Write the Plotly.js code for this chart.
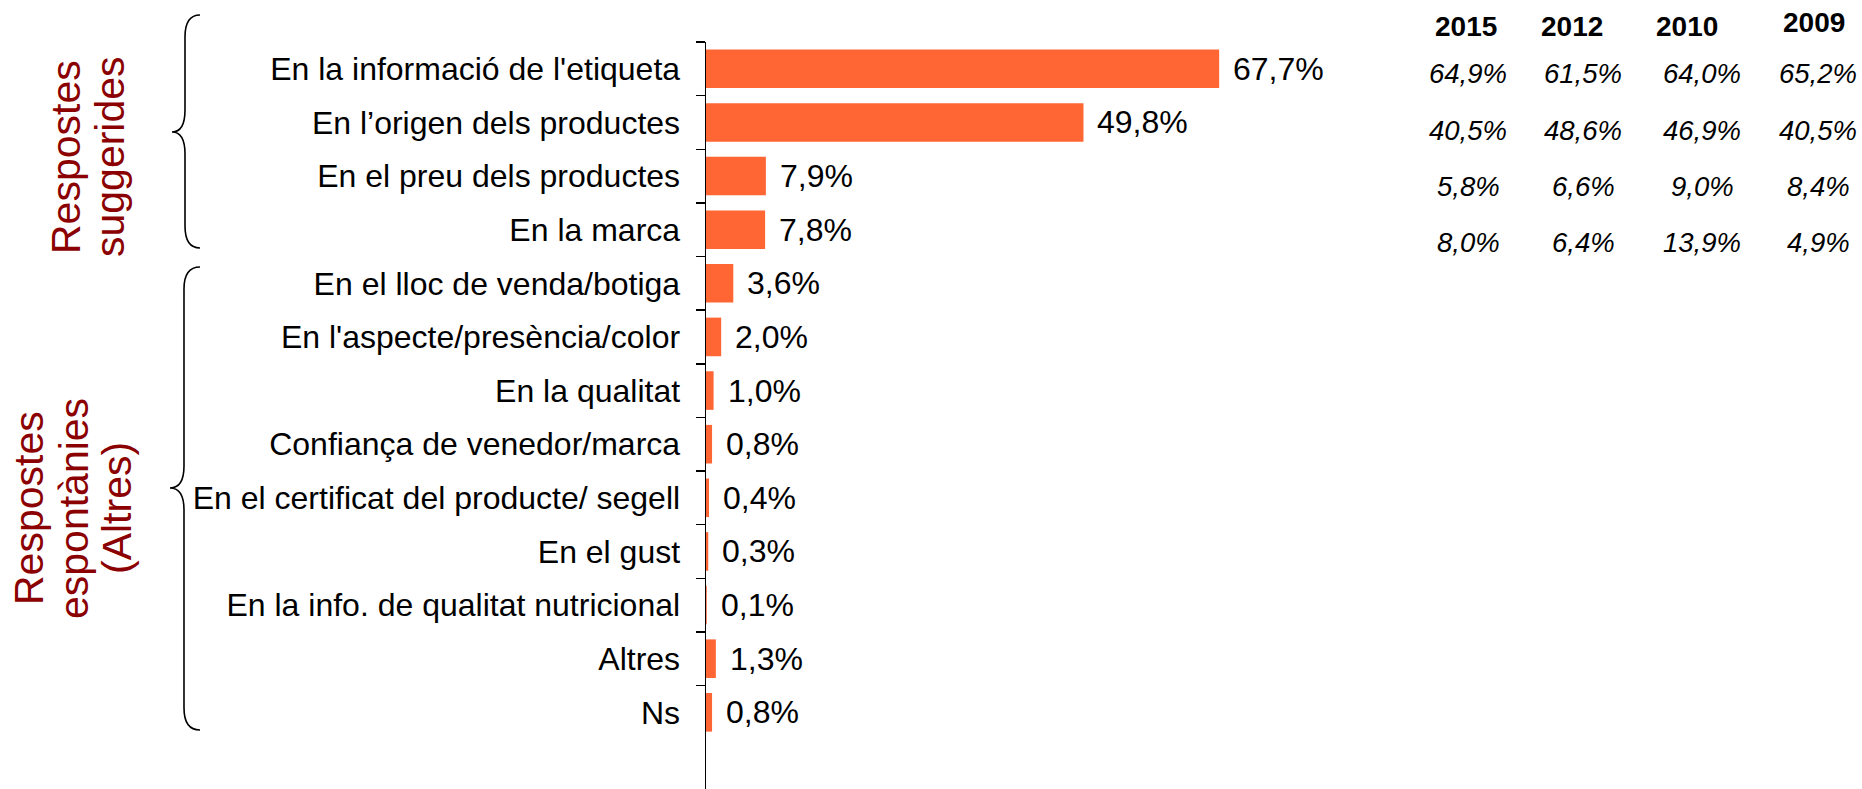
<!DOCTYPE html>
<html>
<head>
<meta charset="utf-8">
<script src="https://cdn.plot.ly/plotly-3.0.1.min.js"></script>
<style>
  html, body { margin: 0; padding: 0; background: #ffffff; }
  #chart { width: 1862px; height: 789px; }
</style>
</head>
<body>
<div id="chart"></div>
<script>
// ---------------- DATA ----------------
const categories = [
  "En la informació de l'etiqueta",
  "En l\u2019origen dels productes",
  "En el preu dels productes",
  "En la marca",
  "En el lloc de venda/botiga",
  "En l'aspecte/presència/color",
  "En la qualitat",
  "Confiança de venedor/marca",
  "En el certificat del producte/ segell",
  "En el gust",
  "En la info. de qualitat nutricional",
  "Altres",
  "Ns"
];
const values2017 = [67.7, 49.8, 7.9, 7.8, 3.6, 2.0, 1.0, 0.8, 0.4, 0.3, 0.1, 1.3, 0.8];

const tableYears = ["2015", "2012", "2010", "2009"];
const values2015 = [64.9, 40.5, 5.8, 8.0];
const values2012 = [61.5, 48.6, 6.6, 6.4];
const values2010 = [64.0, 46.9, 9.0, 13.9];
const values2009 = [65.2, 40.5, 8.4, 4.9];
const tableValues = [values2015, values2012, values2010, values2009];

const groupLabels = [
  ["Respostes", "suggerides"],
  ["Respostes", "espontànies", "(Altres)"]
];

// ---------------- LAYOUT HELPERS ----------------
const W = 1862, H = 789;
const M = { l: 706, r: 0, t: 42, b: 0 };
const PW = W - M.l - M.r, PH = H - M.t - M.b;
const px = x => (x - M.l) / PW;          // pixel x -> paper
const py = y => 1 - (y - M.t) / PH;      // pixel y -> paper
const FONT = "Liberation Sans, Arial, sans-serif";
const fmt = v => v.toFixed(1).replace('.', ',') + '%';

const annotations = [];
const shapes = [];

// value labels next to bars
categories.forEach((c, i) => {
  annotations.push({
    x: values2017[i], y: c, xref: 'x', yref: 'y',
    text: fmt(values2017[i]), showarrow: false,
    xanchor: 'left', yanchor: 'middle', xshift: 12,
    font: { family: FONT, size: 32, color: '#000000' }
  });
});

// table at the right
const headerX = [1466, 1572, 1687, 1814];
const headerY = [27, 27, 27, 23];
const colX = [1468, 1583, 1702, 1818];
const rowY = [74, 130, 187, 242];
tableYears.forEach((yr, j) => {
  annotations.push({
    x: px(headerX[j]), y: py(headerY[j]), xref: 'paper', yref: 'paper',
    text: '<b>' + yr + '</b>', showarrow: false,
    xanchor: 'center', yanchor: 'middle',
    font: { family: FONT, size: 28, color: '#000000' }
  });
  tableValues[j].forEach((v, r) => {
    annotations.push({
      x: px(colX[j]), y: py(rowY[r]), xref: 'paper', yref: 'paper',
      text: '<i>' + fmt(v) + '</i>', showarrow: false,
      xanchor: 'center', yanchor: 'middle',
      font: { family: FONT, size: 27.5, color: '#000000' }
    });
  });
});

// group titles (rotated)
const RED = '#8B0000';
const g1x = [66, 110], g1y = 157;
const g2x = [29, 74, 117], g2y = 508;
groupLabels[0].forEach((t, k) => annotations.push({
  x: px(g1x[k]), y: py(g1y), xref: 'paper', yref: 'paper', text: t,
  showarrow: false, textangle: -90, xanchor: 'center', yanchor: 'middle',
  font: { family: FONT, size: 41, color: RED }
}));
groupLabels[1].forEach((t, k) => annotations.push({
  x: px(g2x[k]), y: py(g2y), xref: 'paper', yref: 'paper', text: t,
  showarrow: false, textangle: -90, xanchor: 'center', yanchor: 'middle',
  font: { family: FONT, size: 41, color: RED }
}));

// curly braces
function bracePath(xEnd, xLine, xTip, yTop, yMid, yBot) {
  const r = 22;
  const P = (x, y) => px(x).toFixed(5) + ',' + py(y).toFixed(5);
  return 'M ' + P(xEnd, yTop) +
    ' Q ' + P(xLine, yTop) + ' ' + P(xLine, yTop + r) +
    ' L ' + P(xLine, yMid - r) +
    ' Q ' + P(xLine, yMid) + ' ' + P(xTip, yMid) +
    ' Q ' + P(xLine, yMid) + ' ' + P(xLine, yMid + r) +
    ' L ' + P(xLine, yBot - r) +
    ' Q ' + P(xLine, yBot) + ' ' + P(xEnd, yBot);
}
shapes.push({ type: 'path', xref: 'paper', yref: 'paper',
  path: bracePath(200, 185, 172, 15, 132, 248),
  line: { color: '#000000', width: 1.6 } });
shapes.push({ type: 'path', xref: 'paper', yref: 'paper',
  path: bracePath(200, 184, 170, 267, 488, 730),
  line: { color: '#000000', width: 1.6 } });

const trace = {
  type: 'bar', orientation: 'h',
  x: values2017, y: categories,
  width: 0.72,
  marker: { color: '#FF6633', line: { width: 0 } },
  hoverinfo: 'skip'
};

const pxPerUnit = 7.58;
const layout = {
  width: W, height: H,
  margin: { l: M.l, r: M.r, t: M.t, b: M.b, pad: 0 },
  paper_bgcolor: '#ffffff', plot_bgcolor: '#ffffff',
  showlegend: false,
  bargap: 0.28,
  xaxis: { range: [0, PW / pxPerUnit], visible: false, fixedrange: true },
  yaxis: {
    type: 'category',
    range: [13.43, -0.5],
    showline: true, linecolor: '#000000', linewidth: 1.5,
    ticks: 'outside', tickson: 'boundaries', ticklen: 9, tickwidth: 1.5, tickcolor: '#000000',
    showgrid: false, zeroline: false,
    ticklabelstandoff: 18,
    tickfont: { family: FONT, size: 32, color: '#000000' },
    fixedrange: true
  },
  annotations: annotations,
  shapes: shapes,
  font: { family: FONT }
};

Plotly.newPlot('chart', [trace], layout, { displayModeBar: false, staticPlot: true });
</script>
</body>
</html>
